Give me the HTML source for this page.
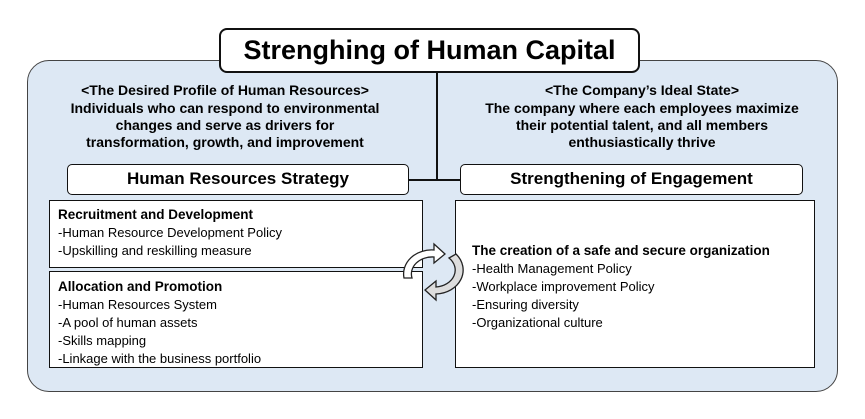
<!DOCTYPE html>
<html><head><meta charset="utf-8"><style>
body{margin:0;width:865px;height:419px;background:#fff;position:relative;font-family:"Liberation Sans",sans-serif;overflow:hidden}
.a{position:absolute;box-sizing:border-box}
.bg{left:27px;top:60px;width:811px;height:332px;background:#dde8f4;border:1.5px solid #444;border-radius:22px}
.title{left:219px;top:28px;width:421px;height:45px;background:#fff;border:2px solid #111;border-radius:8px;font-weight:bold;font-size:27px;text-align:center;line-height:41px}
.hd{top:164px;height:31px;background:#fff;border:1.5px solid #111;border-radius:5px;font-weight:bold;font-size:17px;text-align:center;line-height:28px}
.t{font-weight:bold;font-size:14px;text-align:center;line-height:17px;width:400px}
.box{background:#fff;border:1.5px solid #111;font-size:13px;line-height:18px;padding:5px 8px}
.box b{font-size:13.5px}
</style></head><body>
<div class="a bg"></div>
<div class="a" style="left:436px;top:72px;width:2px;height:109px;background:#111"></div>
<div class="a" style="left:408px;top:179px;width:54px;height:2px;background:#111"></div>
<div class="a title">Strenghing of Human Capital</div>
<div class="a t" style="left:25px;top:82px">&lt;The Desired Profile of Human Resources&gt;</div>
<div class="a t" style="left:25px;top:100px">Individuals who can respond to environmental<br>changes and serve as drivers for<br>transformation, growth, and improvement</div>
<div class="a t" style="left:442px;top:82px">&lt;The Company’s Ideal State&gt;</div>
<div class="a t" style="left:442px;top:100px">The company where each employees maximize<br>their potential talent, and all members<br>enthusiastically thrive</div>
<div class="a hd" style="left:67px;width:342px">Human Resources Strategy</div>
<div class="a hd" style="left:460px;width:343px">Strengthening of Engagement</div>
<div class="a box" style="left:49px;top:200px;width:374px;height:68px"><b>Recruitment and Development</b><br>-Human Resource Development Policy<br>-Upskilling and reskilling measure</div>
<div class="a box" style="left:49px;top:271px;width:374px;height:97px;padding-top:6px"><b>Allocation and Promotion</b><br>-Human Resources System<br>-A pool of human assets<br>-Skills mapping<br>-Linkage with the business portfolio</div>
<div class="a box" style="left:455px;top:200px;width:360px;height:168px;padding-top:41px;padding-left:16px"><b>The creation of a safe and secure organization</b><br>-Health Management Policy<br>-Workplace improvement Policy<br>-Ensuring diversity<br>-Organizational culture</div>
<svg class="a" style="left:398px;top:242px" width="74" height="60" viewBox="0 0 74 60">
<path d="M6 36 A28 24 0 0 1 36 8 L36 2 L47 12 L36 21 L36 15 A21 17 0 0 0 14 36 Z" fill="#fff" stroke="#222" stroke-width="1.3"/>
<path d="M58 12 A28 24 0 0 1 38 52 L38 58 L27 48 L38 39 L38 45 A21 17 0 0 0 51 16 Z" fill="#ddd" stroke="#222" stroke-width="1.3"/>
</svg>
</body></html>
